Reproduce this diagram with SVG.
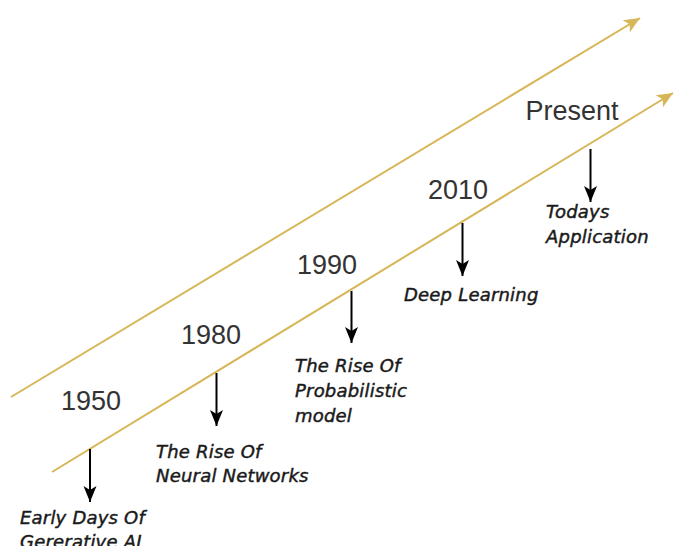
<svg xmlns="http://www.w3.org/2000/svg" width="676" height="546" viewBox="0 0 676 546">
<style>
.year{font-family:"Liberation Sans",Arial,sans-serif;font-size:27px;fill:#333333;text-anchor:middle}
.lbl{font-family:"DejaVu Sans",Verdana,sans-serif;font-size:18px;font-style:italic;fill:#1a1a1a;stroke:#1a1a1a;stroke-width:0.45px;letter-spacing:0.2px}
.gold{stroke:#d6b656;stroke-width:2;fill:none}
.blk{stroke:#000;stroke-width:2;fill:none}
</style>
<defs>
<marker id="ag" markerUnits="userSpaceOnUse" markerWidth="20" markerHeight="20" refX="16" refY="8" orient="auto" viewBox="0 0 20 16">
<path d="M0,1 L16,8 L0,15 L4,8 Z" fill="#d6b656"/>
</marker>
<marker id="ab" markerUnits="userSpaceOnUse" markerWidth="20" markerHeight="20" refX="16" refY="8" orient="auto" viewBox="0 0 20 16">
<path d="M0,1.5 L16,8 L0,14.5 L4,8 Z" fill="#000"/>
</marker>
</defs>
<g id="connectors">
<line class="gold" x1="11" y1="397" x2="640" y2="18" marker-end="url(#ag)"/>
<line class="gold" x1="52" y1="472" x2="673" y2="93" marker-end="url(#ag)"/>
<line class="blk" x1="90" y1="449" x2="90" y2="502" marker-end="url(#ab)"/>
<line class="blk" x1="216.5" y1="373" x2="216.5" y2="426" marker-end="url(#ab)"/>
<line class="blk" x1="351.5" y1="291" x2="351.5" y2="343" marker-end="url(#ab)"/>
<line class="blk" x1="462.5" y1="223" x2="462.5" y2="276" marker-end="url(#ab)"/>
<line class="blk" x1="590.5" y1="149" x2="590.5" y2="202" marker-end="url(#ab)"/>
</g>
<g id="n1950">
<text class="year" x="91" y="410">1950</text>
<text class="lbl" x="20" y="524">Early Days Of</text>
<text class="lbl" x="20" y="548">Gererative AI</text>
</g>
<g id="n1980">
<text class="year" x="211" y="344">1980</text>
<text class="lbl" x="156" y="458">The Rise Of</text>
<text class="lbl" x="156" y="482">Neural Networks</text>
</g>
<g id="n1990">
<text class="year" x="327" y="274">1990</text>
<text class="lbl" x="295" y="372">The Rise Of</text>
<text class="lbl" x="295" y="397">Probabilistic</text>
<text class="lbl" x="295" y="422">model</text>
</g>
<g id="n2010">
<text class="year" x="458" y="199">2010</text>
<text class="lbl" x="404" y="301">Deep Learning</text>
</g>
<g id="npresent">
<text class="year" x="572" y="120">Present</text>
<text class="lbl" x="546" y="218">Todays</text>
<text class="lbl" x="546" y="243">Application</text>
</g>
</svg>
